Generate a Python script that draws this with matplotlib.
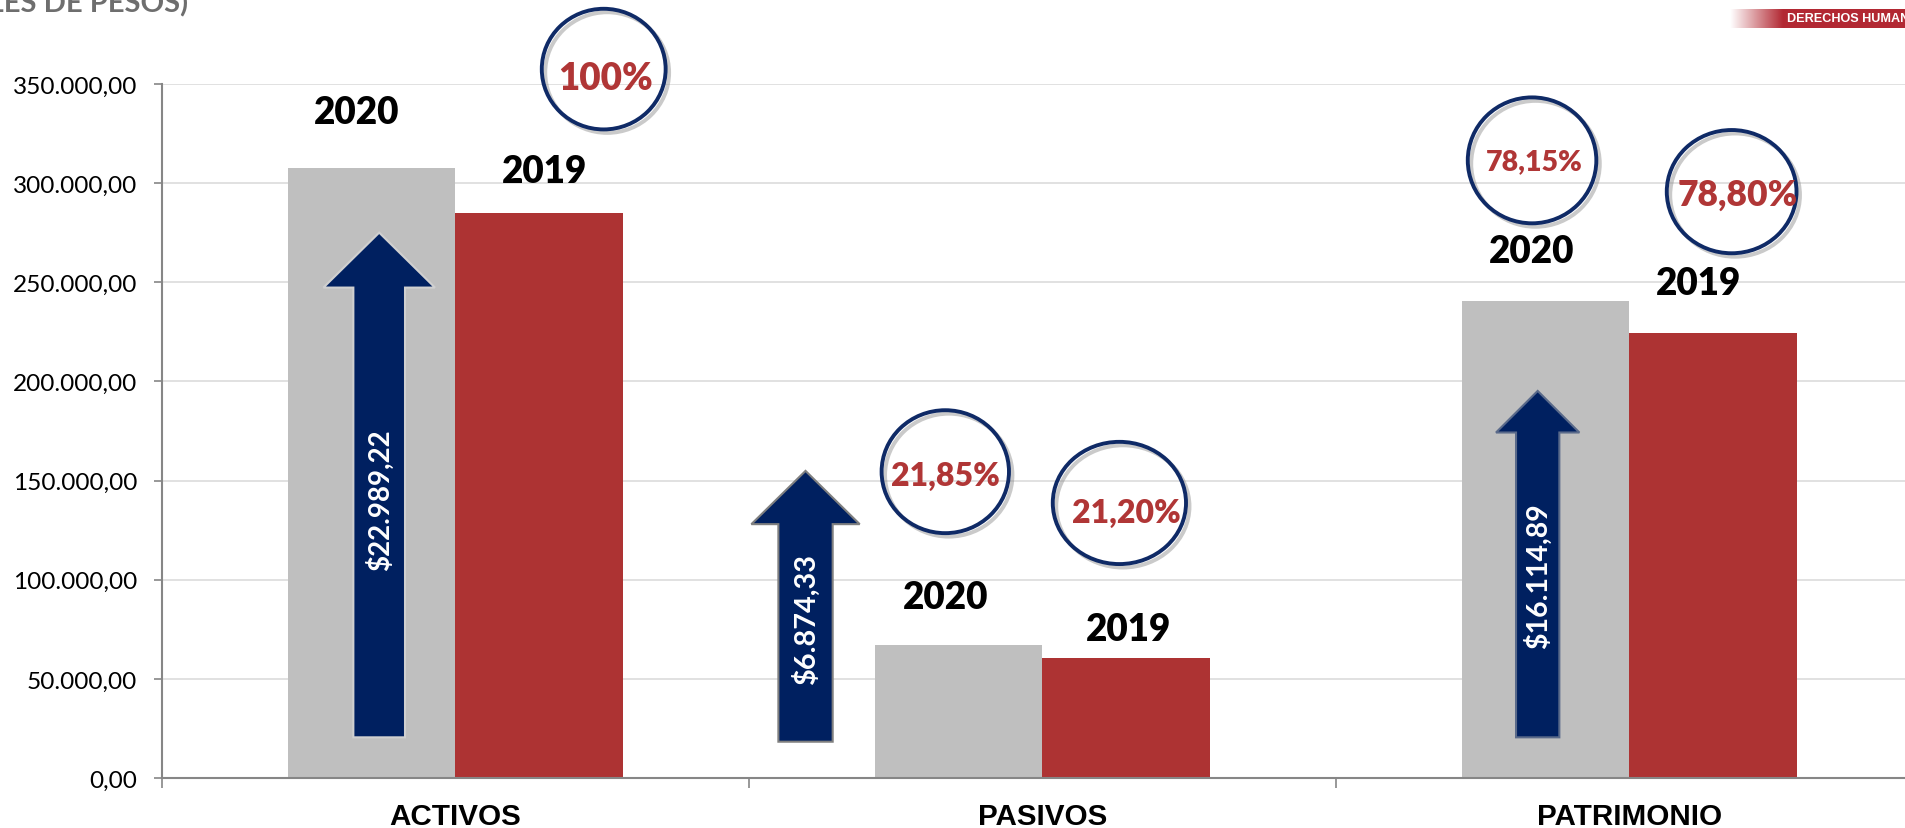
import matplotlib
matplotlib.use("Agg")
import matplotlib.pyplot as plt
from matplotlib.patches import Ellipse, Polygon
from matplotlib import font_manager as fm
import matplotlib.patheffects as pe
import numpy as np

# ---------------- data ----------------
categories = ["ACTIVOS", "PASIVOS", "PATRIMONIO"]
values_2020 = [307788, 67252, 240536]
values_2019 = [284799, 60378, 224421]
year_labels = ["2020", "2019"]
variation_labels = ["$22.989,22", "$6.874,33", "$16.114,89"]
pct_labels = ["100%", "21,85%", "21,20%", "78,15%", "78,80%"]
y_ticks = [0, 50000, 100000, 150000, 200000, 250000, 300000, 350000]

# ---------------- styles / positions ----------------
GRAY = "#BFBFBF"
RED = "#AD3333"
NAVY = "#002060"
CIRCLE_EDGE = "#0F2A66"
PCT_RED = "#B03636"

names = {f.name for f in fm.fontManager.ttflist}
MAIN = "Lato" if "Lato" in names else "DejaVu Sans"
NARROW = "Liberation Sans Narrow" if "Liberation Sans Narrow" in names else "Liberation Sans"
CAT_SIZE = 23 if NARROW == "Liberation Sans Narrow" else 21.3

W, H = 1906, 829
fig = plt.figure(figsize=(W / 100, H / 100), dpi=100)
ax_left, ax_right, ax_bottom, ax_top = 162, 1923, 779, 85
ax = fig.add_axes([ax_left / W, 1 - ax_bottom / H, (ax_right - ax_left) / W, (ax_bottom - ax_top) / H])

x = np.arange(len(categories))
bw = 0.2857
ax.bar(x - bw / 2, values_2020, width=bw, color=GRAY, zorder=2)
ax.bar(x + bw / 2, values_2019, width=bw, color=RED, zorder=2)

ax.set_xlim(-0.5, 2.5)
ax.set_ylim(0, 350000)
ax.set_yticks(y_ticks)
ax.set_yticklabels([f"{v:,.2f}".replace(",", "X").replace(".", ",").replace("X", ".") for v in y_ticks],
                   fontsize=17.6, family=MAIN)
ax.yaxis.grid(True, color="#D9D9D9", linewidth=1.1, zorder=0)
ax.set_axisbelow(True)
for s in ["top", "right"]:
    ax.spines[s].set_visible(False)
for s in ["left", "bottom"]:
    ax.spines[s].set_color("#868686")
    ax.spines[s].set_linewidth(1.5)
ax.tick_params(axis="y", length=6, width=1.2, color="#868686", pad=12)
ax.set_xticks(x)
ax.set_xticklabels(categories, fontsize=CAT_SIZE, fontweight="bold", family=NARROW)
ax.tick_params(axis="x", length=0, pad=17)
ax.set_xticks([-0.5, 0.5, 1.5, 2.5], minor=True)
ax.tick_params(axis="x", which="minor", length=7, width=1.2, color="#868686", direction="out")

# year labels above bars (category offset, y value)
year_pos = [
    [(-0.168, 335840), (0.152, 306100)],
    [(-0.165, 91480), (0.146, 75100)],
    [(-0.166, 265620), (0.117, 249400)],
]
for ci, pair in enumerate(year_pos):
    for yi, (dx, yy) in enumerate(pair):
        ax.text(ci + dx, yy, year_labels[yi], ha="center", va="center", fontsize=26.5,
                fontweight="heavy", family=MAIN, color="black", zorder=5)

# arrows: (x offset, bottom, head base, tip, shaft width, head width, edge colour)
arrow_specs = [
    (-0.130, 20510, 247330, 275050, 0.088, 0.190, "#D0D0D0"),
    (-0.4037, 18300, 128020, 154890, 0.0925, 0.1845, "#7F7F7F"),
    (-0.1564, 20510, 174240, 195210, 0.0738, 0.142, "#5A6A8A"),
]
arrow_text = [(-0.128, 140620, 20.0), (-0.403, 81150, 20.8), (-0.156, 102420, 20.5)]
for ci, (dx, yb, yh, yt, sw, hw, ec) in enumerate(arrow_specs):
    cx = ci + dx
    pts = [(cx - sw / 2, yb), (cx + sw / 2, yb), (cx + sw / 2, yh), (cx + hw / 2, yh),
           (cx, yt), (cx - hw / 2, yh), (cx - sw / 2, yh)]
    ax.add_patch(Polygon(pts, closed=True, facecolor=NAVY, edgecolor=ec, linewidth=1.5, zorder=4))
    tdx, ty, fs = arrow_text[ci]
    ax.text(ci + tdx, ty, variation_labels[ci], rotation=90, ha="center", va="center",
            fontsize=fs, fontweight="bold", family=MAIN, color="white", zorder=5)

# circles: (x data, y data, width, height, text x, text y, fontsize)
circle_specs = [
    (0.2525, 357510, 0.211, 60840, 0.256, 353200, 26.5),
    (1 - 0.1656, 154480, 0.217, 62000, 1 - 0.1646, 152460, 23),
    (1 + 0.131, 138710, 0.227, 61640, 1 + 0.1422, 134100, 23),
    (2 - 0.166, 311490, 0.219, 63500, 2 - 0.163, 310980, 20.5),
    (2 + 0.174, 295710, 0.221, 62150, 2 + 0.1845, 294600, 25.5),
]
for i, (cx, cy, w, h, tx, ty, fs) in enumerate(circle_specs):
    e = Ellipse((cx, cy), w, h, facecolor="none", edgecolor=CIRCLE_EDGE, linewidth=2.8, zorder=6,
                clip_on=False)
    e.set_path_effects([pe.SimpleLineShadow(offset=(2.5, -2.5), shadow_color="#8A8A8A", alpha=0.45),
                        pe.Normal()])
    ax.add_patch(e)
    ax.text(tx, ty, pct_labels[i], ha="center", va="center", fontsize=fs, fontweight="heavy",
            family=MAIN, color=PCT_RED, zorder=7, clip_on=False)

# cut-off title at top-left (cropped in the reference)
fig.text(188 / W, 1 - 12 / H, "(EN MILES DE PESOS)", ha="right", va="baseline", fontsize=21,
         fontweight="bold", family=MAIN, color="#6E6E6E")

# partial logo at top-right (cropped in the reference)
lax = fig.add_axes([1730 / W, 1 - 28.5 / H, (W - 1730) / W, 18.5 / H])
grad = np.linspace(0, 1, 200)
grad = np.clip(grad / 0.3, 0, 1)
red_rgb = np.array([0.70, 0.16, 0.20])
img = np.ones((1, 200, 3)) * (1 - grad[None, :, None]) + red_rgb[None, None, :] * grad[None, :, None]
lax.imshow(img, aspect="auto", extent=[0, 1, 0, 1])
lax.set_xlim(0, 1)
lax.set_ylim(0, 1)
lax.axis("off")
fig.text(1787 / W, 1 - 19.5 / H, "DERECHOS HUMANOS", ha="left", va="center", fontsize=9.1,
         fontweight="bold", family="Liberation Sans", color="white")

fig.savefig("out.png", dpi=100)
